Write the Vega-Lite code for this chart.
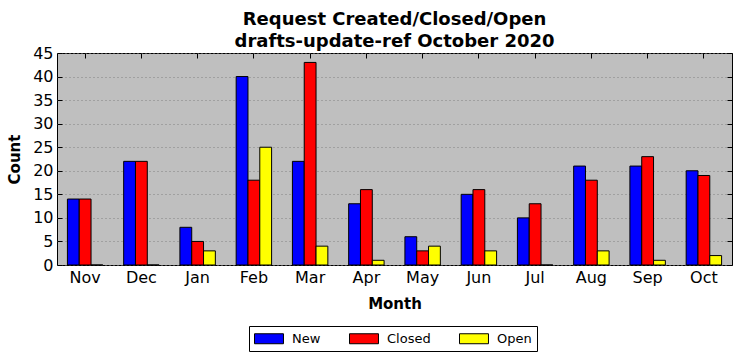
{
  "$schema": "https://vega.github.io/schema/vega-lite/v6.json",
  "width": 675,
  "height": 212,
  "autosize": "none",
  "padding": {"left": 57, "top": 53, "right": 9, "bottom": 96},
  "background": "white",
  "title": {
    "text": ["Request Created/Closed/Open", "drafts-update-ref October 2020"],
    "font": "DejaVu Sans",
    "fontSize": 18,
    "fontWeight": "bold",
    "color": "black",
    "offset": -6,
    "lineHeight": 22,
    "anchor": "middle"
  },
  "config": {
    "view": {"fill": "#bfbfbf", "stroke": "black", "strokeWidth": 1},
    "font": "DejaVu Sans",
    "axis": {
      "domain": false,
      "tickColor": "black",
      "tickSize": -5,
      "labelColor": "black",
      "labelFont": "DejaVu Sans",
      "labelFontSize": 16,
      "labelPadding": 9,
      "titleFont": "DejaVu Sans",
      "titleFontSize": 15,
      "titleFontWeight": "bold",
      "titleColor": "black"
    }
  },
  "data": {
    "values": [
      {"month": "Nov", "type": "New", "count": 14},
      {"month": "Nov", "type": "Closed", "count": 14},
      {"month": "Nov", "type": "Open", "count": 0},
      {"month": "Dec", "type": "New", "count": 22},
      {"month": "Dec", "type": "Closed", "count": 22},
      {"month": "Dec", "type": "Open", "count": 0},
      {"month": "Jan", "type": "New", "count": 8},
      {"month": "Jan", "type": "Closed", "count": 5},
      {"month": "Jan", "type": "Open", "count": 3},
      {"month": "Feb", "type": "New", "count": 40},
      {"month": "Feb", "type": "Closed", "count": 18},
      {"month": "Feb", "type": "Open", "count": 25},
      {"month": "Mar", "type": "New", "count": 22},
      {"month": "Mar", "type": "Closed", "count": 43},
      {"month": "Mar", "type": "Open", "count": 4},
      {"month": "Apr", "type": "New", "count": 13},
      {"month": "Apr", "type": "Closed", "count": 16},
      {"month": "Apr", "type": "Open", "count": 1},
      {"month": "May", "type": "New", "count": 6},
      {"month": "May", "type": "Closed", "count": 3},
      {"month": "May", "type": "Open", "count": 4},
      {"month": "Jun", "type": "New", "count": 15},
      {"month": "Jun", "type": "Closed", "count": 16},
      {"month": "Jun", "type": "Open", "count": 3},
      {"month": "Jul", "type": "New", "count": 10},
      {"month": "Jul", "type": "Closed", "count": 13},
      {"month": "Jul", "type": "Open", "count": 0},
      {"month": "Aug", "type": "New", "count": 21},
      {"month": "Aug", "type": "Closed", "count": 18},
      {"month": "Aug", "type": "Open", "count": 3},
      {"month": "Sep", "type": "New", "count": 21},
      {"month": "Sep", "type": "Closed", "count": 23},
      {"month": "Sep", "type": "Open", "count": 1},
      {"month": "Oct", "type": "New", "count": 20},
      {"month": "Oct", "type": "Closed", "count": 19},
      {"month": "Oct", "type": "Open", "count": 2}
    ]
  },
  "encoding": {
    "x": {
      "field": "month",
      "type": "nominal",
      "sort": ["Nov", "Dec", "Jan", "Feb", "Mar", "Apr", "May", "Jun", "Jul", "Aug", "Sep", "Oct"],
      "scale": {"paddingInner": 0.37, "paddingOuter": 0.185}
    },
    "xOffset": {
      "field": "type",
      "type": "nominal",
      "sort": ["New", "Closed", "Open"],
      "scale": {"paddingInner": 0, "paddingOuter": 0}
    },
    "y": {
      "field": "count",
      "type": "quantitative",
      "scale": {"domain": [0, 45], "nice": false}
    },
    "color": {
      "field": "type",
      "type": "nominal",
      "sort": ["New", "Closed", "Open"],
      "scale": {"domain": ["New", "Closed", "Open"], "range": ["#0000ff", "#ff0000", "#ffff00"]},
      "legend": {
        "title": null,
        "orient": "none",
        "legendX": 192,
        "legendY": 273,
        "direction": "horizontal",
        "strokeColor": "black",
        "fillColor": "white",
        "padding": 5,
        "symbolType": "M-1,-0.714H3.14V0.714H-1Z",
        "symbolSize": 196,
        "symbolStrokeColor": "black",
        "symbolStrokeWidth": 1,
        "symbolOpacity": 1,
        "labelFont": "DejaVu Sans",
        "labelFontSize": 13,
        "labelColor": "black",
        "columnPadding": 26,
        "labelOffset": 23
      }
    }
  },
  "layer": [
    {
      "mark": {"type": "bar", "stroke": "black", "strokeWidth": 1, "opacity": 1},
      "encoding": {
        "x": {
          "field": "month",
          "type": "nominal",
          "sort": ["Nov", "Dec", "Jan", "Feb", "Mar", "Apr", "May", "Jun", "Jul", "Aug", "Sep", "Oct"],
          "axis": {"orient": "bottom", "title": "Month", "labelAngle": 0, "titlePadding": 11}
        },
        "y": {
          "field": "count",
          "type": "quantitative",
          "axis": {
            "orient": "left",
            "title": "Count",
            "values": [0, 5, 10, 15, 20, 25, 30, 35, 40, 45],
            "grid": true,
            "gridColor": "#808080",
            "gridDash": [1, 3],
            "gridWidth": 1,
            "titlePadding": 10
          }
        }
      }
    },
    {
      "mark": {"type": "bar", "opacity": 0},
      "encoding": {
        "x": {
          "field": "month",
          "type": "nominal",
          "sort": ["Nov", "Dec", "Jan", "Feb", "Mar", "Apr", "May", "Jun", "Jul", "Aug", "Sep", "Oct"],
          "axis": {"orient": "top", "title": null, "labels": false}
        },
        "y": {
          "field": "count",
          "type": "quantitative",
          "axis": {"orient": "right", "title": null, "labels": false, "grid": false, "values": [0, 5, 10, 15, 20, 25, 30, 35, 40, 45]}
        }
      }
    }
  ],
  "resolve": {"axis": {"x": "independent", "y": "independent"}}
}
